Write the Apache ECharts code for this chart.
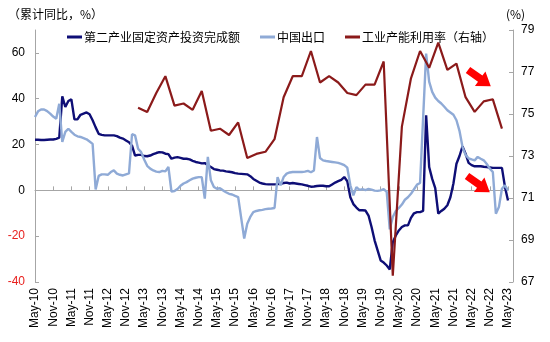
<!DOCTYPE html>
<html>
<head>
<meta charset="utf-8">
<script src="https://cdn.jsdelivr.net/npm/echarts@6/dist/echarts.min.js"></script>
<style>html,body{margin:0;padding:0;background:#fff}#c{width:550px;height:342px}</style>
</head>
<body>
<div id="c"></div>
<script>
// Month categories May-10 .. May-23
const monthNames = ['Jan','Feb','Mar','Apr','May','Jun','Jul','Aug','Sep','Oct','Nov','Dec'];
const categories = [];
for (let y = 2010, m = 4; y < 2023 || (y === 2023 && m <= 4); ) {
  categories.push(monthNames[m] + '-' + String(y).slice(2));
  m++; if (m > 11) { m = 0; y++; }
}

const seriesNames = ['第二产业固定资产投资完成额', '中国出口', '工业产能利用率（右轴）'];

// 第二产业固定资产投资完成额 累计同比 (%)
const investment = [
  22.1,22.1,22.0,22.0,22.1,22.2,22.2,22.5,23.0,41.0,
  36.4,39.0,39.7,31.0,31.0,33.0,33.5,34.0,33.2,30.6,
  27.5,24.7,24.2,24.0,24.0,24.0,24.0,23.7,23.0,22.6,
  21.8,21.0,19.5,15.2,15.5,15.5,15.0,14.9,15.2,15.8,
  16.3,16.7,16.6,16.0,15.8,13.8,14.3,14.5,14.2,13.8,
  13.8,13.5,12.9,12.4,12.1,11.8,11.9,11.0,10.2,9.3,
  9.0,8.7,8.6,8.3,8.1,7.9,7.5,7.3,7.2,7.1,
  7.0,6.2,5.0,4.2,3.4,3.0,2.7,2.6,2.6,2.6,
  2.7,2.9,3.2,3.4,3.0,3.2,3.0,2.8,2.6,2.3,
  2.0,1.6,1.7,1.9,2.0,2.0,1.8,1.8,2.6,3.4,
  4.0,4.6,5.8,4.0,-3.0,-6.0,-7.5,-8.7,-8.7,-8.8,
  -11.0,-16.0,-21.8,-26.2,-30.6,-31.5,-32.8,-34.5,-22.6,-19.7,
  -17.5,-16.0,-15.3,-15.3,-12.0,-10.0,-9.5,-9.5,-9.0,32.8,
  10.2,5.0,1.0,-10.2,-9.0,-8.0,-6.5,-3.0,3.0,11.6,
  15.0,19.2,16.0,12.0,11.0,10.5,10.5,10.5,10.3,10.2,
  10.0,9.8,9.8,9.8,9.8,1.5,-4.4
];

// 中国出口 累计同比 (%)
const exports = [
  32.0,34.5,35.3,35.3,34.6,33.5,32.2,31.3,37.8,21.1,
  25.5,26.9,25.5,24.3,23.6,23.3,22.8,22.3,21.3,20.3,
  0.4,6.3,7.0,7.0,6.8,8.0,8.7,7.3,6.8,6.5,
  7.0,7.4,24.5,24.0,18.2,16.7,13.5,10.7,9.5,8.7,
  8.2,8.0,8.5,8.3,10.2,-0.5,-0.3,0.6,2.0,3.0,
  3.6,4.4,5.1,5.5,5.8,5.8,-3.6,14.6,4.4,1.5,
  0.7,0.9,0.0,-0.8,-1.5,-1.8,-2.4,-2.9,-12.0,-21.0,
  -14.6,-11.6,-9.5,-9.0,-8.7,-8.5,-8.2,-8.0,-7.9,-7.7,
  5.8,2.2,5.8,7.3,7.8,8.0,8.0,8.0,8.0,8.2,
  8.5,7.9,8.7,23.3,14.1,13.1,12.8,12.6,12.4,12.2,
  12.0,11.6,11.0,9.9,2.2,-2.2,1.4,0.2,0.5,0.1,
  0.6,0.3,-0.1,-0.2,0.0,0.5,-0.7,-17.0,-11.6,-9.0,
  -7.7,-6.2,-4.1,-3.0,-1.5,0.5,2.5,3.2,null,59.7,
  47.5,43.0,40.5,39.0,37.9,36.5,35.0,34.0,33.0,30.6,
  26.0,18.9,15.5,14.0,13.5,13.1,14.6,13.8,13.1,11.5,
  9.5,8.0,-10.2,-7.3,0.7,2.2,0.0
];

// 工业产能利用率 (%), quarterly
const capQuarters = [
  'Mar-13','Jun-13','Sep-13','Dec-13','Mar-14','Jun-14','Sep-14','Dec-14',
  'Mar-15','Jun-15','Sep-15','Dec-15','Mar-16','Jun-16','Sep-16','Dec-16',
  'Mar-17','Jun-17','Sep-17','Dec-17','Mar-18','Jun-18','Sep-18','Dec-18',
  'Mar-19','Jun-19','Sep-19','Dec-19','Mar-20','Jun-20','Sep-20','Dec-20',
  'Mar-21','Jun-21','Sep-21','Dec-21','Mar-22','Jun-22','Sep-22','Dec-22','Mar-23'
];
const capUtil = [
  75.3,75.1,76.0,76.8,75.4,75.5,75.2,76.1,
  74.2,74.3,74.0,74.6,72.9,73.1,73.2,73.8,
  75.8,76.8,76.8,78.0,76.5,76.8,76.5,76.0,
  75.9,76.4,76.4,77.5,67.3,74.4,76.7,78.0,
  77.2,78.4,77.1,77.4,75.8,75.1,75.6,75.7,74.3
];

const leftTicks = { min: -40, max: 70, interval: 20 };
const rightTicks = { min: 67, max: 79, interval: 2 };

const capSeries = categories.map(c => {
  const k = capQuarters.indexOf(c);
  return k >= 0 ? capUtil[k] : null;
});

const chart = echarts.init(document.getElementById('c'), null, { renderer: 'canvas' });
const latin = 'Arial, "Liberation Sans", "Noto Sans CJK SC", sans-serif';
const cjk = '"Noto Sans CJK SC", "Liberation Sans", sans-serif';
const axisGray = '#A6A6A6';

function arrow(x, y, rot) {
  return {
    type: 'polygon', x: x, y: y, rotation: rot, z: 100,
    shape: { points: [[0,-3.8],[15,-3.8],[15,-9],[28,0],[15,9],[15,3.8],[0,3.8]] },
    style: { fill: '#FF0000' }
  };
}

chart.setOption({
  animation: false,
  backgroundColor: '#fff',
  grid: { left: 35, right: 42, top: 30, bottom: 60, containLabel: false },
  legend: {
    left: 62, top: 26, itemGap: 20, itemWidth: 15, itemHeight: 3, icon: 'rect',
    textStyle: { fontFamily: cjk, fontSize: 12, color: '#000', padding: [0,0,0,-3] },
    data: seriesNames
  },
  graphic: [
    { type: 'text', left: 8, top: 8, style: { text: '（累计同比，%）', font: '12px ' + cjk, fill: '#000' } },
    { type: 'text', left: 506, top: 8, style: { text: '(%)', font: '12px ' + cjk, fill: '#000' } },
    arrow(468, 70, -0.62),
    arrow(467, 176, -0.62)
  ],
  xAxis: [
    {
      type: 'category', data: categories, boundaryGap: false,
      axisLine: { onZero: true, lineStyle: { color: axisGray, width: 1 } },
      axisTick: { show: true, inside: true, length: 4, interval: 5, lineStyle: { color: axisGray } },
      axisLabel: { show: false },
      splitLine: { show: false }
    },
    {
      type: 'category', data: categories, boundaryGap: false, position: 'bottom',
      axisLine: { show: false, onZero: false },
      axisTick: { show: false },
      axisLabel: { interval: 5, rotate: 90, margin: 6, fontSize: 12, fontFamily: latin, color: '#000' },
      splitLine: { show: false }
    }
  ],
  yAxis: [
    {
      type: 'value', min: leftTicks.min, max: leftTicks.max, interval: leftTicks.interval,
      axisLine: { show: true, lineStyle: { color: axisGray } },
      axisTick: { show: true, inside: true, length: 4, lineStyle: { color: axisGray } },
      axisLabel: {
        showMaxLabel: false, margin: 10, fontSize: 12, fontFamily: latin,
        color: v => (v < 0 ? '#E8201E' : '#000')
      },
      splitLine: { show: false }
    },
    {
      type: 'value', min: rightTicks.min, max: rightTicks.max, interval: rightTicks.interval,
      position: 'right', offset: 5,
      axisLine: { show: true, lineStyle: { color: axisGray } },
      axisTick: { show: true, inside: true, length: 4, lineStyle: { color: axisGray } },
      axisLabel: { margin: 8, fontSize: 12, fontFamily: latin, color: '#000' },
      splitLine: { show: false }
    }
  ],
  series: [
    {
      name: seriesNames[0], type: 'line', data: investment, xAxisIndex: 0, yAxisIndex: 0,
      showSymbol: false, symbol: 'none', connectNulls: true,
      lineStyle: { color: '#0E0E76', width: 2.4 }, itemStyle: { color: '#0E0E76' }
    },
    {
      name: seriesNames[1], type: 'line', data: exports, xAxisIndex: 0, yAxisIndex: 0,
      showSymbol: false, symbol: 'none', connectNulls: true,
      lineStyle: { color: '#8FAAD6', width: 2.4 }, itemStyle: { color: '#8FAAD6' }
    },
    {
      name: seriesNames[2], type: 'line', data: capSeries, xAxisIndex: 0, yAxisIndex: 1,
      showSymbol: false, symbol: 'none', connectNulls: true,
      lineStyle: { color: '#8B1A1A', width: 2.2 }, itemStyle: { color: '#8B1A1A' }
    }
  ]
});
</script>
</body>
</html>
